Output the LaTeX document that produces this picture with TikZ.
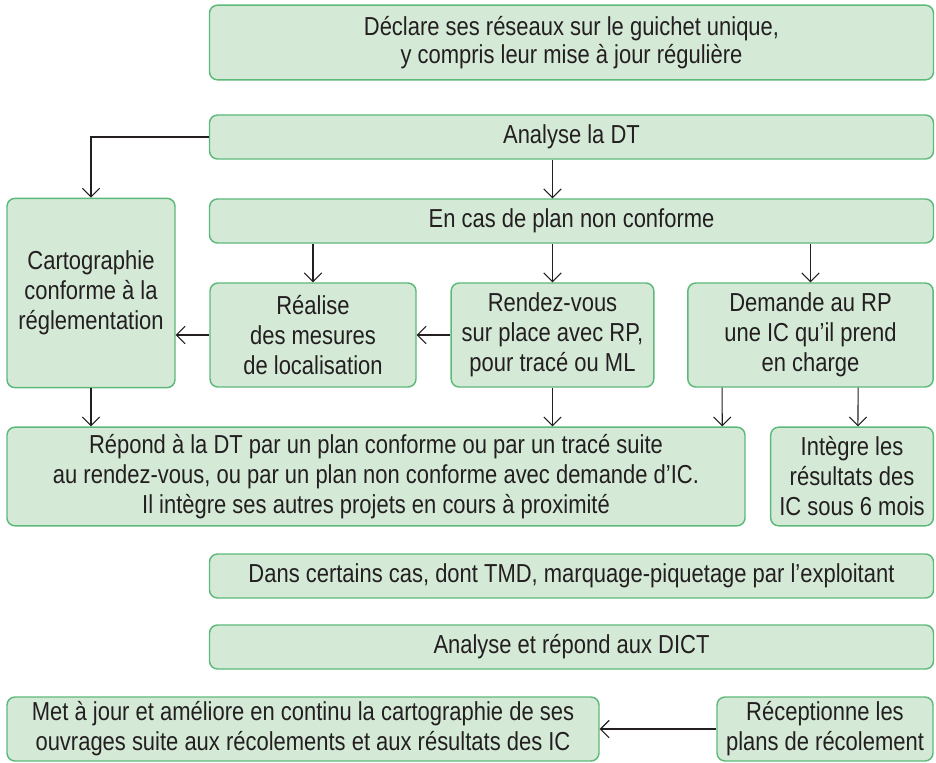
\documentclass[tikz,border=0pt]{standalone}
\usepackage{fontspec}
\setmainfont{Liberation Sans}[FakeStretch=0.845]
\usepackage{tikz}
\usetikzlibrary{calc}
\usetikzlibrary{arrows.meta}

\definecolor{boitefond}{HTML}{D5E9D7}
\definecolor{boitebord}{HTML}{5DB97A}
\definecolor{texte}{HTML}{231F20}

\begin{document}
\begin{tikzpicture} [x=0.75pt, y=-0.75pt,
  etape/.style={draw=boitebord, line width=1.1pt, fill=boitefond, rounded corners=6pt,
    text=texte, align=center, inner sep=0pt,
    font=\fontsize{19.5}{22.5}\selectfont},
  fleche/.style={draw=texte, line width=0.8pt, -{Straight Barb[length=6.5pt,width=13pt]}}]
\useasboundingbox (0,0) rectangle (936,763);

% haut
\node[etape, minimum width=543pt, minimum height=56pt] (declare) at (571.5,42.5) {D\'eclare ses r\'eseaux sur le guichet unique,\\[-1pt]y compris leur mise \`a jour r\'eguli\`ere};
\node[etape, minimum width=543pt, minimum height=33pt] (analyse) at (571.5,137) {Analyse la DT};
\node[etape, minimum width=543pt, minimum height=33pt] (encas) at (571.5,221) {En cas de plan non conforme};

% milieu
\node[etape, minimum width=126pt, minimum height=142pt] (carto) at (91,293) {Cartographie\\conforme \`a la\\r\'eglementation};
\node[etape, minimum width=154.5pt, minimum height=78pt] (realise) at (313,335) {R\'ealise\\des mesures\\de localisation};
\node[etape, minimum width=152pt, minimum height=78pt] (rdv) at (552.5,335) {Rendez-vous\\sur place avec RP,\\pour trac\'e ou ML};
\node[etape, minimum width=184pt, minimum height=78pt] (demande) at (810.5,335) {Demande au RP\\une IC qu'il prend\\en charge};

\node[etape, minimum width=553.5pt, minimum height=74pt] (repond) at (376,476.5) {R\'epond \`a la DT par un plan conforme ou par un trac\'e suite\\au rendez-vous, ou par un plan non conforme avec demande d'IC.\\Il int\`egre ses autres projets en cours \`a proximit\'e};
\node[etape, minimum width=122pt, minimum height=74pt] (integre) at (852,476.5) {Int\`egre les\\r\'esultats des\\IC sous 6 mois};

% bas
\node[etape, minimum width=543pt, minimum height=33pt] (dans) at (571.5,576) {Dans certains cas, dont TMD, marquage-piquetage par l'exploitant};
\node[etape, minimum width=543pt, minimum height=33pt] (dict) at (571.5,647) {Analyse et r\'epond aux DICT};
\node[etape, minimum width=444pt, minimum height=48pt] (majour) at (303,729) {Met \`a jour et am\'eliore en continu la cartographie de ses\\ouvrages suite aux r\'ecolements et aux r\'esultats des IC};
\node[etape, minimum width=162pt, minimum height=48pt] (recep) at (825,729) {R\'eceptionne les\\plans de r\'ecolement};

% fleches
\draw[fleche] (analyse.west) -| (carto.north);
\draw[fleche] (analyse.south -| rdv.north) -- (encas.north -| rdv.north);
\foreach \b in {realise, rdv, demande}
\draw[fleche] (encas.south -| \b.north) -- (\b.north);
\draw[fleche] (rdv.west) -- (rdv.west -| realise.east);
\draw[fleche] (realise.west) -- (realise.west -| carto.east);
\draw[fleche] (carto.south) -- (repond.north -| carto.south);
\draw[fleche] (rdv.south) -- (repond.north -| rdv.south);
\draw[fleche] ($(demande.south west)+(35,0)$) -- ($(repond.north west)+(716,0)$);
\draw[fleche] ($(demande.south west)+(171,0)$) -- ($(integre.north west)+(88,0)$);
\draw[fleche] (recep.west) -- (majour.east);

\end{tikzpicture}
\end{document}
